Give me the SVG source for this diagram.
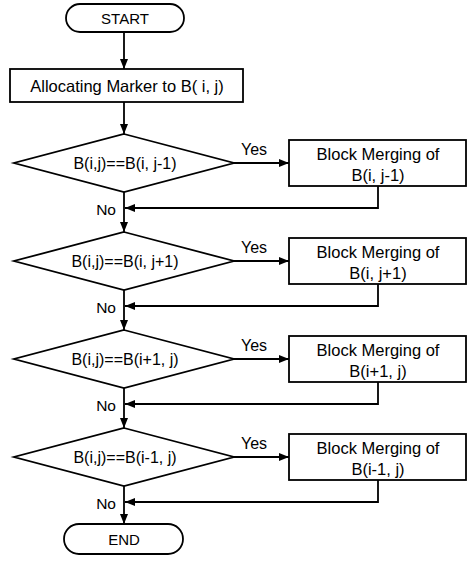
<svg xmlns="http://www.w3.org/2000/svg" width="470" height="563" viewBox="0 0 470 563">
<style>
.s{fill:#fff;stroke:#000;stroke-width:1.8}
.c{fill:none;stroke:#000;stroke-width:1.8}
text{font-family:"Liberation Sans",Arial,sans-serif;font-size:16.5px;fill:#000}
.t{font-size:15px}
.d{font-size:16px}
.y{font-size:16px}
.n{font-size:15.5px}
.m{text-anchor:middle}
.e{text-anchor:end}
</style>
<defs>
<marker id="a" viewBox="0 0 10 8" refX="10" refY="4" markerWidth="10" markerHeight="8" markerUnits="userSpaceOnUse" orient="auto">
<path d="M0,0 L10,4 L0,8 z" fill="#000"/>
</marker>
</defs>
<g id="connectors">
<path class="c" d="M124,32 V69" marker-end="url(#a)"/>
<path class="c" d="M124,102 V134" marker-end="url(#a)"/>
<path class="c" d="M124,192 V232" marker-end="url(#a)"/>
<path class="c" d="M124,290 V330" marker-end="url(#a)"/>
<path class="c" d="M124,388 V428" marker-end="url(#a)"/>
<path class="c" d="M124,486 V524" marker-end="url(#a)"/>
<path class="c" d="M234,163 H289" marker-end="url(#a)"/>
<path class="c" d="M234,261 H289" marker-end="url(#a)"/>
<path class="c" d="M234,359 H289" marker-end="url(#a)"/>
<path class="c" d="M234,457 H289" marker-end="url(#a)"/>
<path class="c" d="M378,186 V208 H125" marker-end="url(#a)"/>
<path class="c" d="M378,284 V306 H125" marker-end="url(#a)"/>
<path class="c" d="M378,382 V404 H125" marker-end="url(#a)"/>
<path class="c" d="M378,480 V502 H125" marker-end="url(#a)"/>
<text x="254" y="155" class="m y">Yes</text>
<text x="254" y="253" class="m y">Yes</text>
<text x="254" y="351" class="m y">Yes</text>
<text x="254" y="449" class="m y">Yes</text>
<text x="116" y="215" class="e n">No</text>
<text x="116" y="313" class="e n">No</text>
<text x="116" y="411" class="e n">No</text>
<text x="116" y="509" class="e n">No</text>
</g>
<g id="start">
<rect class="s" x="66" y="4" width="118" height="28" rx="14"/>
<text x="125" y="23.5" class="m t">START</text>
</g>
<g id="allocate">
<rect class="s" x="10" y="69" width="233" height="33"/>
<text x="127" y="91.5" class="m">Allocating Marker to B( i, j)</text>
</g>
<g id="d1">
<polygon class="s" points="124,134 234,163 124,192 14,163"/>
<text x="125" y="169" class="m d">B(i,j)==B(i, j-1)</text>
</g>
<g id="b1">
<rect class="s" x="289" y="140" width="177" height="46"/>
<text x="378" y="160" class="m">Block Merging of</text>
<text x="378" y="181" class="m">B(i, j-1)</text>
</g>
<g id="d2">
<polygon class="s" points="124,232 234,261 124,290 14,261"/>
<text x="125" y="267" class="m d">B(i,j)==B(i, j+1)</text>
</g>
<g id="b2">
<rect class="s" x="289" y="238" width="177" height="46"/>
<text x="378" y="258" class="m">Block Merging of</text>
<text x="378" y="279" class="m">B(i, j+1)</text>
</g>
<g id="d3">
<polygon class="s" points="124,330 234,359 124,388 14,359"/>
<text x="125" y="365" class="m d">B(i,j)==B(i+1, j)</text>
</g>
<g id="b3">
<rect class="s" x="289" y="336" width="177" height="46"/>
<text x="378" y="356" class="m">Block Merging of</text>
<text x="378" y="377" class="m">B(i+1, j)</text>
</g>
<g id="d4">
<polygon class="s" points="124,428 234,457 124,486 14,457"/>
<text x="125" y="463" class="m d">B(i,j)==B(i-1, j)</text>
</g>
<g id="b4">
<rect class="s" x="289" y="434" width="177" height="46"/>
<text x="378" y="454" class="m">Block Merging of</text>
<text x="378" y="475" class="m">B(i-1, j)</text>
</g>
<g id="end">
<rect class="s" x="64" y="524" width="119" height="30" rx="15"/>
<text x="124" y="544.5" class="m t">END</text>
</g>
</svg>
